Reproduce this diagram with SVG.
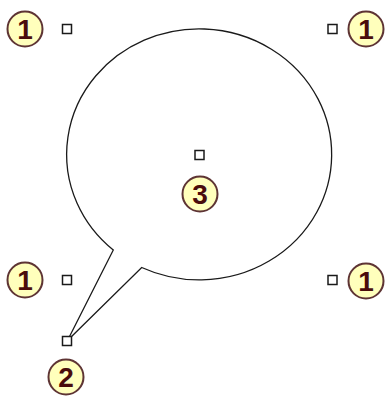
<svg xmlns="http://www.w3.org/2000/svg" width="390" height="398" viewBox="0 0 390 398">
<style>
.h{fill:#fff;stroke:#1a1a1a;stroke-width:1.5}
.b circle{fill:#ffffbc;stroke:#5e3434;stroke-width:2}
.b text{font-family:"Liberation Sans",Arial,sans-serif;font-weight:bold;font-size:28px;fill:#4a0c0c;text-anchor:middle}
.shape{fill:none;stroke:#1a1a1a;stroke-width:1.3;stroke-linejoin:miter}
</style>
<rect width="390" height="398" fill="#fff"/>
<g id="callout">
<path class="shape" d="M113.3,250 A132.5,125.5 0 1 1 141.7,267.5 L67.5,340.5 Z"/>
</g>
<g id="handles">
<rect class="h" x="62.5" y="24.5" width="9" height="9"/>
<rect class="h" x="328" y="24.5" width="9" height="9"/>
<rect class="h" x="62.5" y="275.5" width="9" height="9"/>
<rect class="h" x="328" y="275.5" width="9" height="9"/>
<rect class="h" x="195" y="150.5" width="9" height="9"/>
<rect class="h" x="62.5" y="336.5" width="9" height="9"/>
</g>
<g id="badge-tl" class="b"><circle cx="25" cy="29" r="17.5"/><text x="25" y="39">1</text></g>
<g id="badge-tr" class="b"><circle cx="366" cy="29" r="17.5"/><text x="366" y="39">1</text></g>
<g id="badge-bl" class="b"><circle cx="25" cy="280" r="17.5"/><text x="25" y="290">1</text></g>
<g id="badge-br" class="b"><circle cx="366" cy="281" r="17.5"/><text x="366" y="291">1</text></g>
<g id="badge-center" class="b"><circle cx="200" cy="194" r="17.5"/><text x="200" y="204">3</text></g>
<g id="badge-tip" class="b"><circle cx="66" cy="377" r="17.5"/><text x="66" y="387">2</text></g>
</svg>
